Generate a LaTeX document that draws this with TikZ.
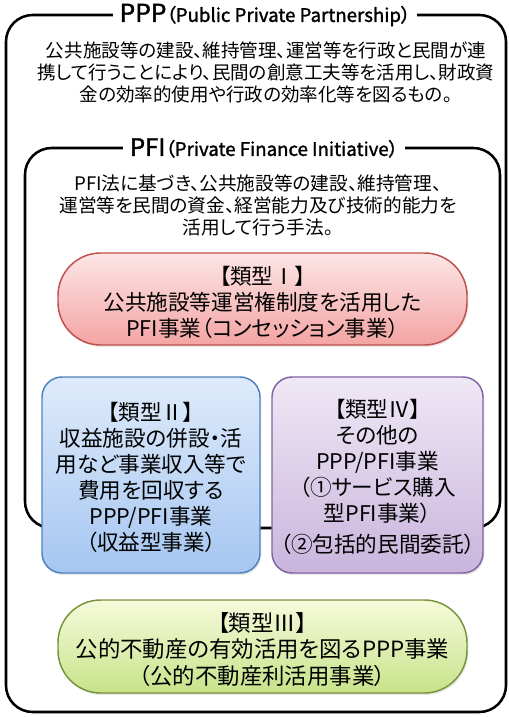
\documentclass[tikz,border=0pt]{standalone}
\usepackage{fontspec}
\setmainfont[RawFeature=+palt]{Noto Sans CJK JP}
\newfontfamily\titlefont[FakeBold=1.5, RawFeature=+palt]{Noto Sans CJK JP}
\usepackage{tikz}
\usetikzlibrary{shadows}

\definecolor{redline}{HTML}{C0504D}
\definecolor{redtop}{HTML}{FDE6E6}
\definecolor{redbot}{HTML}{F3A4A3}
\definecolor{blueline}{HTML}{4F81BD}
\definecolor{bluetop}{HTML}{DEEBFB}
\definecolor{bluebot}{HTML}{A6C6F1}
\definecolor{purpline}{HTML}{8064A2}
\definecolor{purptop}{HTML}{EFE8F5}
\definecolor{purpbot}{HTML}{C9B5DD}
\definecolor{greenline}{HTML}{77933C}
\definecolor{greentop}{HTML}{F6FADB}
\definecolor{greenbot}{HTML}{C8E38A}

\tikzset{
  frame/.style={line width=1.9pt, rounded corners=20pt},
  frametitle/.style={fill=white, inner xsep=5pt, inner ysep=1pt, font=\titlefont},
  typebox/.style={line width=1.1pt, drop shadow={opacity=0.18, shadow xshift=1pt, shadow yshift=-1.5pt}},
  pill/.style={typebox, rounded corners=32pt},
  card/.style={typebox, rounded corners=15pt},
  typetext/.style={align=center, font=\fontsize{16.2}{19.5}\selectfont},
}

\begin{document}
\begin{tikzpicture}[x=0.75pt, y=-0.75pt]
  \useasboundingbox (0,0) rectangle (509,717);

  % PPP frame
  \draw[frame] (6,15) rectangle (506,712);
  \node[frametitle] (ppptitle) at (265,15)
    {{\fontsize{18.5}{20}\selectfont PPP}{\fontsize{14}{16}\selectfont （Public Private Partnership）}};
  \node[align=center, font=\fontsize{13.9}{16.5}\selectfont] (pppdesc) at (266,72)
    {公共施設等の建設、維持管理、運営等を行政と民間が連\\
     携して行うことにより、民間の創意工夫等を活用し、財政資\\
     金の効率的使用や行政の効率化等を図るもの。};

  % PFI frame
  \draw[frame] (25,148) rectangle (500,528);
  \node[frametitle] (pfititle) at (264,148)
    {{\fontsize{18}{20}\selectfont PFI}{\fontsize{14}{16}\selectfont （Private Finance Initiative）}};
  \node[align=center, font=\fontsize{14}{16.5}\selectfont] (pfidesc) at (258,205)
    {PFI法に基づき、公共施設等の建設、維持管理、\\
     運営等を民間の資金、経営能力及び技術的能力を\\
     活用して行う手法。};

  % type I
  \draw[pill, draw=redline, top color=redtop, bottom color=redbot] (58,253) rectangle (467,345);
  \node[typetext] (typeI) at (262.5,302.5)
    {【類型Ⅰ】\\公共施設等運営権制度を活用した\\PFI事業（コンセッション事業）};

  % type II
  \draw[card, draw=blueline, top color=bluetop, bottom color=bluebot] (42,377) rectangle (260,573);
  \node[typetext] (typeII) at (151,477.5)
    {【類型Ⅱ】\\収益施設の併設・活\\用など事業収入等で\\費用を回収する\\PPP/PFI事業\\（収益型事業）};

  % type IV
  \draw[card, draw=purpline, top color=purptop, bottom color=purpbot] (272,377) rectangle (483,573);
  \node[typetext] (typeIV) at (377.5,477)
    {【類型Ⅳ】\\その他の\\PPP/PFI事業\\（①サービス購入\\型PFI事業）\\[4pt]（②包括的民間委託）};

  % type III
  \draw[pill, draw=greenline, top color=greentop, bottom color=greenbot] (58,600) rectangle (467,693);
  \node[typetext, font=\fontsize{16.8}{20}\selectfont] (typeIII) at (262.5,649.5)
    {【類型Ⅲ】\\公的不動産の有効活用を図るPPP事業\\（公的不動産利活用事業）};
\end{tikzpicture}
\end{document}
